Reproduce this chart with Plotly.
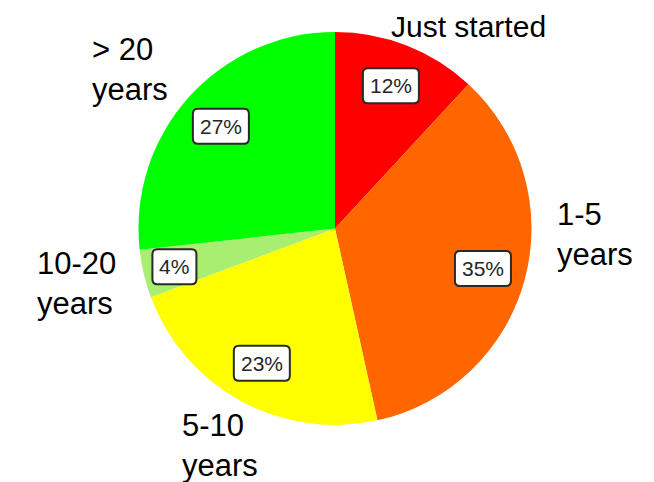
import math
import plotly.graph_objects as go

categories = ["Just started", "1-5 years", "5-10 years", "10-20 years", "> 20 years"]
values = [12, 35, 23, 4, 27]
pct_labels = ["12%", "35%", "23%", "4%", "27%"]
colors = ["#FF0000", "#FF6600", "#FFFF00", "#A8EE70", "#00FF00"]

W, H = 654, 482
OFF = 8  # page body margin in the browser
cx, cy, r = 335 - OFF, 228.5 - OFF, 196.5

def px(x):
    return x / W

def py(y):
    return 1 - y / H

fig = go.Figure(go.Pie(
    labels=categories,
    values=values,
    sort=False,
    direction="clockwise",
    rotation=0,
    marker=dict(colors=colors, line=dict(width=0)),
    textinfo="none",
    hoverinfo="label+percent",
    showlegend=False,
    domain=dict(x=[px(cx - r), px(cx + r)], y=[py(cy + r), py(cy - r)]),
))

def rounded_rect(w, h, rad):
    x0, x1, y0, y1 = -w / 2, w / 2, -h / 2, h / 2
    return (f"M{x0+rad},{y0} L{x1-rad},{y0} Q{x1},{y0} {x1},{y0+rad} "
            f"L{x1},{y1-rad} Q{x1},{y1} {x1-rad},{y1} L{x0+rad},{y1} "
            f"Q{x0},{y1} {x0},{y1-rad} L{x0},{y0+rad} Q{x0},{y0} {x0+rad},{y0} Z")

annotations = []
shapes = []
total = sum(values)
cum = 0
for v, t in zip(values, pct_labels):
    mid = (cum + v / 2) / total * 2 * math.pi
    cum += v
    rr = r * (0.84 if v < 8 else 0.78)
    x = cx + rr * math.sin(mid)
    y = cy - rr * math.cos(mid)
    bw = 56 if len(t) > 2 else 44
    shapes.append(dict(
        type="path", xref="paper", yref="paper", xsizemode="pixel", ysizemode="pixel",
        xanchor=px(x), yanchor=py(y), path=rounded_rect(bw, 35, 5),
        fillcolor="white", line=dict(color="#2a2a2a", width=2), layer="above",
    ))
    annotations.append(dict(
        x=px(x), y=py(y), xref="paper", yref="paper", text=t, showarrow=False,
        font=dict(family="Liberation Sans, Arial", size=21, color="#262626"),
        xanchor="center", yanchor="middle",
    ))

outer = [
    ("Just started", 389, 27, 30),
    ("1-5<br>years", 555, 234, 31),
    ("5-10<br>years", 180, 445, 31),
    ("10-20<br>years", 35, 283, 31),
    ("> 20<br>years", 90, 70, 31),
]
for t, x, y, s in outer:
    annotations.append(dict(
        x=px(x - OFF), y=py(y - OFF), xref="paper", yref="paper", text=t, showarrow=False,
        font=dict(family="Liberation Sans, Arial", size=s, color="black"),
        xanchor="left", yanchor="middle", align="left",
    ))

fig.update_layout(
    width=W, height=H,
    margin=dict(l=0, r=0, t=0, b=0),
    paper_bgcolor="white", plot_bgcolor="white",
    annotations=annotations,
    shapes=shapes,
)

fig.write_html("out.html")
